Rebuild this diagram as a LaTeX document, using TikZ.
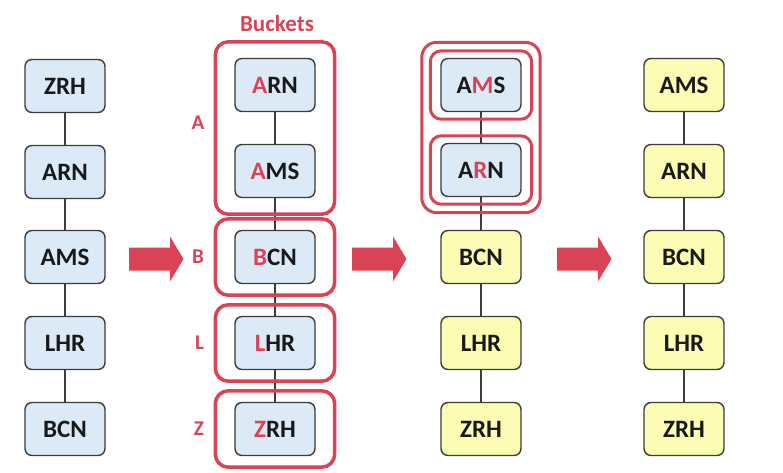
\documentclass[tikz,border=0pt]{standalone}
\usepackage{fontspec}
\setmainfont{Carlito}
\usetikzlibrary{positioning,fit}
\definecolor{bred}{RGB}{216,68,86}
\definecolor{nblue}{RGB}{220,234,247}
\definecolor{nyellow}{RGB}{252,252,180}
\definecolor{ngray}{RGB}{60,60,60}
\newcommand{\rl}[1]{\textcolor{bred}{#1}}
\newcommand{\fatarrow}[1]{\fill[bred] (#1,247.5) -- ++(41,0) -- ++(0,-11) -- ++(13.5,22.5) -- ++(-13.5,22.5) -- ++(0,-11) -- ++(-41,0) -- cycle;}

\begin{document}
\begin{tikzpicture}[x=1pt, y=-1pt,
	box/.style={draw=ngray, line width=1.4pt, rounded corners=7pt, minimum width=80pt, minimum height=53pt, inner sep=0pt, font=\fontsize{25}{25}\selectfont\bfseries, text=black!90},
	bluebox/.style={box, fill=nblue},
	yellowbox/.style={box, fill=nyellow},
	link/.style={draw=ngray, line width=1.1pt},
	bucket/.style={draw=bred, line width=3.5pt, rounded corners=13pt, inner xsep=19pt, inner ysep=11pt},
	innerbucket/.style={draw=bred, line width=3pt, rounded corners=11pt, inner xsep=10pt, inner ysep=7pt},
	outerbucket/.style={draw=bred, line width=3pt, rounded corners=15pt, inner sep=7pt},
	letter/.style={text=bred, font=\fontsize{21}{21}\selectfont\bfseries}]
	\useasboundingbox (0,0) rectangle (783,473);

	% Input list
	\node[bluebox] (azrh) at (65,86) {ZRH};
	\node[bluebox] (aarn) at (65,172) {ARN};
	\node[bluebox] (aams) at (65,257) {AMS};
	\node[bluebox] (alhr) at (65,343) {LHR};
	\node[bluebox] (abcn) at (65,429) {BCN};
	\draw[link] (azrh.south) -- (aarn.north);
	\draw[link] (aarn.south) -- (aams.north);
	\draw[link] (aams.south) -- (alhr.north);
	\draw[link] (alhr.south) -- (abcn.north);

	% Distributed into buckets by first letter
	\node[bluebox] (barn) at (275,85) {\rl{A}RN};
	\node[bluebox] (bams) at (275,171) {\rl{A}MS};
	\node[bluebox] (bbcn) at (275,257) {\rl{B}CN};
	\node[bluebox] (blhr) at (275,343) {\rl{L}HR};
	\node[bluebox] (bzrh) at (275,429) {\rl{Z}RH};
	\draw[link] (barn.south) -- (bams.north);
	\draw[link] (bams.south) -- (bbcn.north);
	\draw[link] (bbcn.south) -- (blhr.north);
	\draw[link] (blhr.south) -- (bzrh.north);

	\node[bucket, inner ysep=16pt, fit=(barn)(bams)] (bka) {};
	\node[bucket, fit=(bbcn)] (bkb) {};
	\node[bucket, fit=(blhr)] (bkl) {};
	\node[bucket, fit=(bzrh)] (bkz) {};
	\node[letter] (lba) at (198,123) {A};
	\node[letter, left=6pt of bkb] (lbb) {B};
	\node[letter, left=6pt of bkl] (lbl) {L};
	\node[letter, left=6pt of bkz] (lbz) {Z};
	\node[letter, font=\fontsize{23}{23}\selectfont\bfseries] (bkts) at (277,24) {Buckets};

	% Bucket A sorted on the next letter
	\node[bluebox] (cams) at (481,85) {A\rl{M}S};
	\node[bluebox] (carn) at (481,170) {A\rl{R}N};
	\node[yellowbox] (cbcn) at (481,257) {BCN};
	\node[yellowbox] (clhr) at (481,343) {LHR};
	\node[yellowbox] (czrh) at (481,429) {ZRH};
	\draw[link] (cams.south) -- (carn.north);
	\draw[link] (carn.south) -- (cbcn.north);
	\draw[link] (cbcn.south) -- (clhr.north);
	\draw[link] (clhr.south) -- (czrh.north);

	\node[innerbucket, fit=(cams)] (cbkm) {};
	\node[innerbucket, fit=(carn)] (cbkr) {};
	\node[outerbucket, fit=(cbkm)(cbkr)] (cbka) {};

	% Sorted list
	\node[yellowbox] (dams) at (684,85) {AMS};
	\node[yellowbox] (darn) at (684,171) {ARN};
	\node[yellowbox] (dbcn) at (684,257) {BCN};
	\node[yellowbox] (dlhr) at (684,343) {LHR};
	\node[yellowbox] (dzrh) at (684,429) {ZRH};
	\draw[link] (dams.south) -- (darn.north);
	\draw[link] (darn.south) -- (dbcn.north);
	\draw[link] (dbcn.south) -- (dlhr.north);
	\draw[link] (dlhr.south) -- (dzrh.north);

	% Step arrows
	\fatarrow{129}
	\fatarrow{352}
	\fatarrow{557}
\end{tikzpicture}
\end{document}
